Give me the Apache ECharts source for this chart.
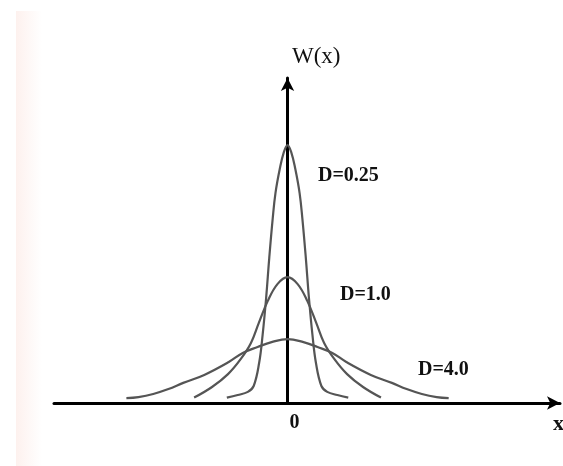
<!DOCTYPE html>
<html>
<head>
<meta charset="utf-8">
<script src="https://cdn.jsdelivr.net/npm/echarts@6/dist/echarts.min.js"></script>
<style>
  html, body { margin: 0; padding: 0; background: #fff; }
  #chart { width: 563px; height: 466px; }
</style>
</head>
<body>
<div id="chart"></div>
<script>
// Half profiles of W(x) (x >= 0); the curves are symmetric about x = 0.
const xD025 = [0, 0.10, 0.20, 0.31, 0.38, 0.47, 0.55, 0.64, 0.73, 0.87, 1.02, 1.28, 1.56];
const wD025 = [1.0, 0.97, 0.907, 0.814, 0.717, 0.562, 0.407, 0.264, 0.155, 0.066, 0.043, 0.031, 0.021];

const xD1 = [0, 0.26, 0.51, 0.74, 0.94, 1.20, 1.53, 1.94, 2.40];
const wD1 = [0.488, 0.461, 0.395, 0.310, 0.233, 0.171, 0.112, 0.062, 0.021];

const xD4 = [0, 0.41, 0.77, 1.15, 1.51, 2.14, 2.68, 3.06, 3.45, 3.83, 4.14];
const wD4 = [0.248, 0.236, 0.217, 0.194, 0.159, 0.109, 0.078, 0.054, 0.035, 0.023, 0.019];

const curveNames = ['D=0.25', 'D=1.0', 'D=4.0'];
const xTickLabels = ['0'];

// Mirror a half profile into a full symmetric curve.
function mirror(xs, ws) {
  const pts = [];
  for (let i = xs.length - 1; i >= 1; i--) pts.push([-xs[i], ws[i]]);
  for (let i = 0; i < xs.length; i++) pts.push([xs[i], ws[i]]);
  return pts;
}

const curves = [mirror(xD025, wD025), mirror(xD1, wD1), mirror(xD4, wD4)];

const chart = echarts.init(document.getElementById('chart'), null, { renderer: 'canvas' });

const serif = '"Liberation Serif", "DejaVu Serif", serif';

chart.setOption({
  animation: false,
  backgroundColor: '#ffffff',
  grid: { left: 54, right: 0, top: 78, bottom: 63 },
  xAxis: {
    type: 'value',
    min: -6,
    max: 7,
    interval: 1,
    axisLine: {
      onZero: true,
      symbol: ['none', 'arrow'],
      symbolSize: [10, 13],
      lineStyle: { color: '#000', width: 3 }
    },
    axisTick: { show: false },
    splitLine: { show: false },
    axisLabel: {
      margin: 10,
      color: '#111',
      fontFamily: serif,
      fontWeight: 'bold',
      fontSize: 20,
      padding: [0, 0, 0, 14],
      formatter: v => (xTickLabels.includes(String(v)) ? String(v) : '')
    }
  },
  yAxis: {
    type: 'value',
    min: 0,
    max: 1.26,
    axisLine: {
      onZero: true,
      symbol: ['none', 'arrow'],
      symbolSize: [10, 13],
      lineStyle: { color: '#000', width: 3 }
    },
    axisTick: { show: false },
    splitLine: { show: false },
    axisLabel: { show: false }
  },
  series: curves.map((pts, i) => ({
    name: curveNames[i],
    type: 'line',
    data: pts,
    smooth: 0.4,
    showSymbol: false,
    z: 1,
    lineStyle: { color: '#555555', width: 2.2 }
  })),
  graphic: [
    {
      type: 'rect', z: -10,
      shape: { x: 16, y: 11, width: 26, height: 455 },
      style: {
        fill: new echarts.graphic.LinearGradient(0, 0, 1, 0, [
          { offset: 0, color: '#fdf1ee' },
          { offset: 1, color: '#ffffff' }
        ])
      }
    },
    {
      type: 'text', left: 292, top: 45,
      style: { text: 'W(x)', font: '23px ' + serif, fill: '#111' }
    },
    {
      type: 'text', left: 318, top: 166,
      style: { text: curveNames[0], font: 'bold 20px ' + serif, fill: '#111' }
    },
    {
      type: 'text', left: 340, top: 285,
      style: { text: curveNames[1], font: 'bold 20px ' + serif, fill: '#111' }
    },
    {
      type: 'text', left: 418, top: 360,
      style: { text: curveNames[2], font: 'bold 20px ' + serif, fill: '#111' }
    },
    {
      type: 'text', left: 553, top: 413,
      style: { text: 'x', font: 'bold 22px ' + serif, fill: '#111' }
    }
  ]
});
</script>
</body>
</html>
